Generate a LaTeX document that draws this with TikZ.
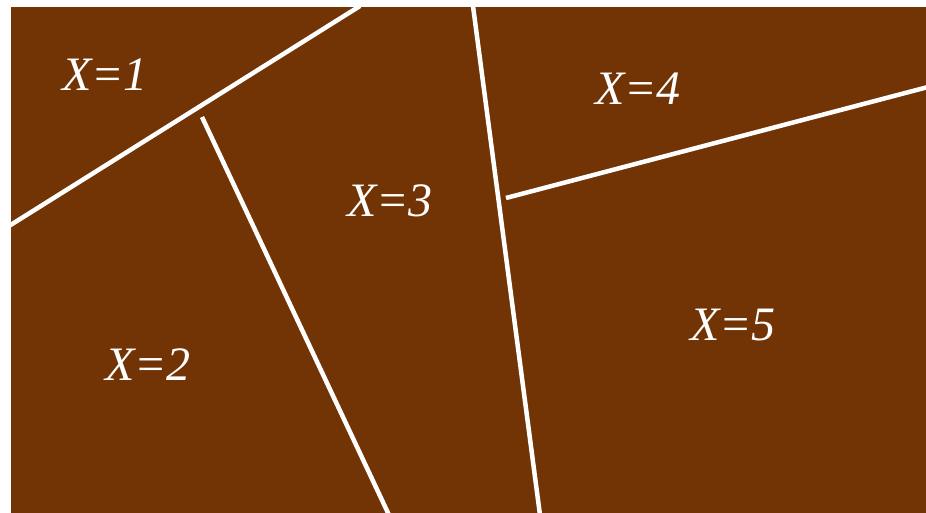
\documentclass[tikz,border=0pt]{standalone}
\usepackage{fontspec}
\setmainfont{Liberation Serif}
\definecolor{soil}{HTML}{723405}
\begin{document}
\begin{tikzpicture}[x=1pt,y=-1pt,
  divider/.style={draw=white,line width=4.5pt},
  region/.style={text=white,font=\fontsize{48}{48}\selectfont\itshape,inner sep=0pt}]
\useasboundingbox (0,0) rectangle (926,513);
\fill[soil] (11,7) rectangle (926,513);
\begin{scope}
\clip (11,7) rectangle (926,513);
\coordinate (a1) at (360,6);
\coordinate (a2) at (9,226);
\coordinate (b1) at (202,117);
\coordinate (b2) at (389,515);
\coordinate (c1) at (473,6);
\coordinate (c2) at (540,515);
\coordinate (d1) at (506,198);
\coordinate (d2) at (928,87);
\draw[divider] (a1) -- (a2);
\draw[divider] (b1) -- (b2);
\draw[divider] (c1) -- (c2);
\draw[divider] (d1) -- (d2);
\end{scope}
\node[region] (r1) at (105,75) {X=1};
\node[region] (r2) at (148,365) {X=2};
\node[region] (r3) at (390,201) {X=3};
\node[region] (r4) at (638,89) {X=4};
\node[region] (r5) at (733,325) {X=5};
\end{tikzpicture}
\end{document}
